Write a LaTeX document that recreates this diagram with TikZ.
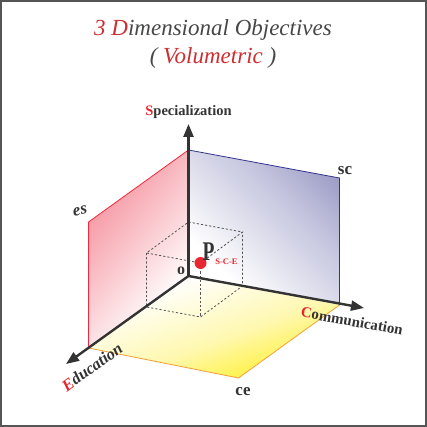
\documentclass[tikz,border=0pt]{standalone}
\usepackage{fontspec}
\setmainfont{Liberation Serif}
\usetikzlibrary{arrows.meta}
\definecolor{txt}{HTML}{333333}
\definecolor{redl}{HTML}{E8262F}
\definecolor{titlered}{HTML}{CC2E32}
\definecolor{titlegray}{HTML}{474747}
\definecolor{bluec}{HTML}{6A6AA8}
\definecolor{bluemid}{HTML}{C4C4DE}
\definecolor{blueedge}{HTML}{33338C}
\definecolor{redc}{HTML}{F2566A}
\definecolor{redmid}{HTML}{F8B4BC}
\definecolor{rededge}{HTML}{F02A3C}
\definecolor{yelc}{HTML}{FFF02A}
\definecolor{yelmid}{HTML}{FFF8B0}
\definecolor{yeledge}{HTML}{F4A040}
\definecolor{framec}{HTML}{555555}
\definecolor{dashc}{HTML}{555555}
\pgfdeclareverticalshading{bluefade}{100bp}{color(0bp)=(white); color(30bp)=(white); color(62bp)=(bluemid); color(100bp)=(bluec)}
\pgfdeclareverticalshading{redfade}{100bp}{color(0bp)=(white); color(30bp)=(white); color(60bp)=(redmid); color(100bp)=(redc)}
\pgfdeclareverticalshading{yelfade}{100bp}{color(0bp)=(yelc); color(25bp)=(yelc); color(45bp)=(yelmid); color(70bp)=(white); color(100bp)=(white)}
\begin{document}
\begin{tikzpicture}[x=1pt,y=-1pt,
  axis/.style={draw=txt, line width=2.4pt, -{Triangle[length=13pt,width=10pt]}},
  cube/.style={draw=dashc, line width=0.8pt, dash pattern=on 2.2pt off 2pt},
  lab/.style={text=txt, font=\bfseries, inner sep=0pt},
  title/.style={inner sep=0pt, text=titlegray}]
\useasboundingbox (0,0) rectangle (427,427);
\draw[framec, line width=1.3pt] (1,1) rectangle (426,426);
% key points
\coordinate (O) at (188.5,276);
\coordinate (T) at (188.5,150);
\coordinate (TR) at (339.5,178);
\coordinate (BR) at (339.5,305);
\coordinate (L) at (88.5,222);
\coordinate (BL) at (88.5,348);
\coordinate (F) at (238.5,378);
\coordinate (Stip) at (188.5,124);
\coordinate (Ctip) at (364,308);
\coordinate (Etip) at (66,364);
% planes
\shade[shading=bluefade, shading angle=-45] (O)--(T)--(TR)--(BR)--cycle;
\draw[blueedge, line width=0.8pt] (T)--(TR)--(BR);
\shade[shading=redfade, shading angle=50] (O)--(T)--(L)--(BL)--cycle;
\draw[rededge, line width=0.8pt] (T)--(L)--(BL);
\shade[shading=yelfade, shading angle=20] (O)--(BL)--(F)--(BR)--cycle;
\draw[yeledge, line width=0.8pt] (BL)--(F)--(BR);
% dashed cube
\coordinate (At) at (188.5,222);
\coordinate (Ct) at (242.5,232);
\coordinate (Cb) at (242.5,286);
\coordinate (Et) at (146.5,253);
\coordinate (Eb) at (146.5,307);
\coordinate (Ft) at (200.5,263);
\coordinate (Fb) at (200.5,317);
\draw[cube] (At)--(Ct)--(Ft)--(Et)--cycle;
\draw[cube] (Et)--(Eb)--(Fb)--(Cb)--(Ct);
\draw[cube] (Ft)--(Fb);
% axes
\draw[axis] (O)--(Stip);
\draw[axis] (O)--(Ctip);
\draw[axis] (O)--(Etip);
% point
\fill[redl] (Ft) circle (6pt);
% labels
\node[lab, font=\bfseries\fontsize{14.5}{16}\selectfont] (spec) at (188.5,112) {\textcolor{redl}{S}pecialization};
\node[lab, font=\bfseries\fontsize{17}{18}\selectfont] (sc) at (345,171) {sc};
\node[lab, font=\bfseries\itshape\fontsize{17}{18}\selectfont, rotate=12] (es) at (80,211) {es};
\node[lab, font=\bfseries\fontsize{16}{17}\selectfont] (o) at (181,271) {o};
\node[lab, font=\bfseries\fontsize{27}{28}\selectfont] (P) at (208.5,251.5) {\scalebox{0.72}[1]{P}};
\node[lab, text=redl, font=\bfseries\fontsize{8.5}{9}\selectfont] (sce) at (226.5,261.5) {S-C-E};
\node[lab, font=\bfseries\fontsize{15}{16}\selectfont, rotate=-10.4] (comm) at (352,321) {\textcolor{redl}{C}ommunication};
\node[lab, font=\bfseries\itshape\fontsize{16.5}{18}\selectfont, rotate=36] (edu) at (92,367) {\textcolor{redl}{E}ducation};
\node[lab, font=\bfseries\fontsize{17}{18}\selectfont] (ce) at (243,392) {ce};
% title
\node[title, font=\itshape\fontsize{23}{26}\selectfont] (t1) at (213,30) {\textcolor{titlered}{3 D}imensional Objectives};
\node[title, font=\itshape\fontsize{23}{26}\selectfont] (t2) at (213,58) {( \textcolor{titlered}{Volumetric} )};
\end{tikzpicture}
\end{document}
